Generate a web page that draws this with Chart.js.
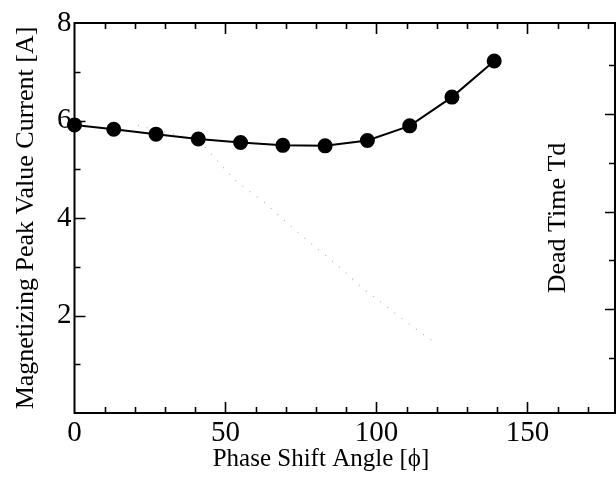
<!DOCTYPE html>
<html><head><meta charset="utf-8">
<script src="https://cdn.jsdelivr.net/npm/chart.js@4/dist/chart.umd.min.js"></script>
<style>html,body{margin:0;padding:0;background:#fff;overflow:hidden}canvas{display:block}</style>
</head><body><canvas id="c" width="616" height="490"></canvas>
<script>
// ---- data ----
const phaseAngles = [0, 13, 27, 41, 55, 69, 83, 97, 111, 125, 139];
const peakCurrent = [5.91, 5.82, 5.72, 5.62, 5.55, 5.49, 5.48, 5.59, 5.89, 6.48, 7.22];
const faintAngles = [21, 41, 53, 63, 74, 88, 96, 112, 119];
const faintValues = [5.9, 5.6, 4.78, 4.31, 3.7, 2.98, 2.53, 1.77, 1.46];
const xTickLabels = [0, 50, 100, 150];
const xMinorTicks = [10, 20, 30, 40, 60, 70, 80, 90, 110, 120, 130, 140, 160, 170];
const yTickLabels = [2, 4, 6, 8];
const yMinorTicks = [1, 3, 5, 7];
const rightTicks = [1, 2, 3, 4, 5, 6, 7];
const xTitle = 'Phase Shift Angle [\u03D5]';
const yTitle = 'Magnetizing Peak Value Current [A]';
const rightTitle = 'Dead Time Td';

const SERIF = "'Liberation Serif', 'Times New Roman', serif";

const framePlugin = {
  id: 'frame',
  afterDatasetsDraw(chart) {
    const ctx = chart.ctx, a = chart.chartArea;
    const x = chart.scales.x, y = chart.scales.y, y2 = chart.scales.y2;
    ctx.save();
    ctx.strokeStyle = '#000';
    ctx.lineWidth = 2;
    ctx.strokeRect(a.left, a.top, a.right - a.left, a.bottom - a.top);
    ctx.lineWidth = 1.6;
    ctx.beginPath();
    const xt = xTickLabels.map(v => [v, 11]).concat(xMinorTicks.map(v => [v, 6]));
    xt.forEach(([v, len]) => {
      if (v <= x.min || v >= x.max) return;
      const px = Math.round(x.getPixelForValue(v)) + 0.5;
      ctx.moveTo(px, a.bottom); ctx.lineTo(px, a.bottom - len);
      ctx.moveTo(px, a.top); ctx.lineTo(px, a.top + len);
    });
    const yt = yTickLabels.map(v => [v, 11]).concat(yMinorTicks.map(v => [v, 6]));
    yt.forEach(([v, len]) => {
      if (v <= y.min || v >= y.max) return;
      const py = Math.round(y.getPixelForValue(v)) + 0.5;
      ctx.moveTo(a.left, py); ctx.lineTo(a.left + len, py);
    });
    rightTicks.forEach(v => {
      const len = v % 2 === 0 ? 10 : 6;
      const py = Math.round(y2.getPixelForValue(v)) + 0.5;
      ctx.moveTo(a.right, py); ctx.lineTo(a.right - len, py);
    });
    ctx.stroke();
    // right-side title, inside the plot
    ctx.fillStyle = '#000';
    ctx.font = '26px ' + SERIF;
    ctx.translate(558, (a.top + a.bottom) / 2);
    ctx.rotate(-Math.PI / 2);
    ctx.textAlign = 'center';
    ctx.textBaseline = 'middle';
    ctx.fillText(rightTitle, 0, 0);
    ctx.restore();
    // x-axis title
    ctx.save();
    ctx.fillStyle = '#000';
    ctx.font = '25px ' + SERIF;
    ctx.textAlign = 'center';
    ctx.textBaseline = 'alphabetic';
    ctx.fillText(xTitle, 321, 466);
    ctx.restore();
  }
};

new Chart(document.getElementById('c'), {
  type: 'scatter',
  data: {
    datasets: [
      {
        label: 'Dead time trace',
        data: faintAngles.map((v, i) => ({x: v, y: faintValues[i]})),
        showLine: true,
        borderColor: 'rgba(0,0,0,0.3)',
        borderWidth: 1.2,
        borderDash: [1, 8],
        pointRadius: 0,
        yAxisID: 'y'
      },
      {
        label: yTitle,
        data: phaseAngles.map((v, i) => ({x: v, y: peakCurrent[i]})),
        showLine: true,
        borderColor: '#000',
        borderWidth: 2,
        backgroundColor: '#000',
        pointBackgroundColor: '#000',
        pointBorderColor: '#000',
        pointRadius: 6.5,
        pointHoverRadius: 6.5,
        tension: 0,
        clip: false,
        yAxisID: 'y'
      }
    ]
  },
  options: {
    responsive: false,
    animation: false,
    events: [],
    layout: { autoPadding: false, padding: { left: 0, right: 1, top: 23, bottom: 0 } },
    plugins: { legend: { display: false }, tooltip: { enabled: false } },
    scales: {
      x: {
        type: 'linear', min: 0, max: 179,
        grid: { display: false, drawTicks: false },
        border: { display: false },
        afterBuildTicks: s => { s.ticks = xTickLabels.map(v => ({ value: v })); },
        afterFit: s => { s.height = 77; s.paddingLeft = 0; s.paddingRight = 0; },
        ticks: { color: '#000', font: { family: SERIF, size: 29 }, padding: 3, maxRotation: 0, autoSkip: false },
        title: { display: false }
      },
      y: {
        type: 'linear', min: 0, max: 8,
        grid: { display: false, drawTicks: false },
        border: { display: false },
        afterBuildTicks: s => { s.ticks = yTickLabels.map(v => ({ value: v })); },
        afterFit: s => { s.width = 74.5; s.paddingTop = 0; s.paddingBottom = 0; },
        ticks: { color: '#000', font: { family: SERIF, size: 29 }, padding: 3 },
        title: { display: true, text: yTitle, color: '#000', font: { family: SERIF, size: 26 }, padding: { top: 11, bottom: 0 } }
      },
      y2: {
        type: 'linear', position: 'right', display: false, min: -0.13, max: 7.87,
        afterBuildTicks: s => { s.ticks = rightTicks.map(v => ({ value: v })); },
        afterFit: s => { s.width = 0; s.paddingTop = 0; s.paddingBottom = 0; }
      }
    }
  },
  plugins: [framePlugin]
});
</script>
</body></html>
